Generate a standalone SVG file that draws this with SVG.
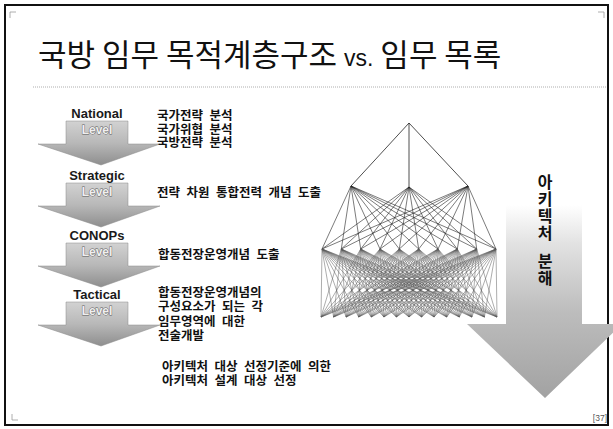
<svg xmlns="http://www.w3.org/2000/svg" width="613" height="429" viewBox="0 0 613 429">
<style>
.name{font-family:"Liberation Sans",Arial,sans-serif;font-weight:bold;font-size:13px;fill:#1a1a1a;text-anchor:middle}
.lvl{font-family:"Liberation Sans",Arial,sans-serif;font-weight:bold;font-size:12px;fill:#efefef;stroke:#5a5a5a;stroke-width:0.8;paint-order:stroke;text-anchor:middle}
.kr{font-family:"Liberation Sans","Noto Sans CJK KR",sans-serif;font-weight:bold;font-size:12.5px;fill:#111;word-spacing:3px}
.vt{font-family:"Noto Sans CJK KR","Noto Sans",sans-serif;font-weight:bold;font-size:16px;fill:#111;writing-mode:vertical-rl;letter-spacing:1px}
.e1{fill:none;stroke:#222;stroke-width:0.8}
.e2{fill:none;stroke:#222;stroke-width:0.6}
.e3{fill:none;stroke:#5a5a5a;stroke-width:0.5}
</style>
<defs>
<linearGradient id="lg" x1="0" y1="0" x2="0" y2="1">
<stop offset="0" stop-color="#d2d2d2"/>
<stop offset="0.5" stop-color="#b8b8b8"/>
<stop offset="1" stop-color="#8e8e8e"/>
</linearGradient>
<linearGradient id="rg" gradientUnits="userSpaceOnUse" x1="0" y1="205" x2="0" y2="398">
<stop offset="0" stop-color="#ffffff"/>
<stop offset="0.2" stop-color="#e2e2e2"/>
<stop offset="0.55" stop-color="#bdbdbd"/>
<stop offset="1" stop-color="#a2a2a2"/>
</linearGradient>
<path id="lvlArrow" d="M66 0H128V23H160L101 44L38 23H66Z" fill="url(#lg)" stroke="#8a8a8a" stroke-width="0.5"/>
</defs>
<rect width="613" height="429" fill="#fff"/>
<rect x="5" y="5" width="603" height="420" fill="none" stroke="#111" stroke-width="2"/>
<g fill="none" stroke="#999" stroke-width="0.8">
<polyline points="10,18 10,12 16,12"/>
<polyline points="598,12 604,12 604,18"/>
<polyline points="12,414 12,420 18,420"/>
</g>
<text x="607" y="421" font-family="Liberation Sans,Arial,sans-serif" font-size="8.5" fill="#555" text-anchor="end">[37]</text>

<g id="title">
<text x="38" y="66" font-family="Noto Sans CJK KR,Noto Sans,sans-serif" font-size="31" fill="#111">국방 임무 목적계층구조 <tspan font-family="Liberation Sans,Arial,sans-serif" font-size="23">vs.</tspan> 임무 목록</text>
<line x1="33" y1="87" x2="606" y2="87" stroke="#999" stroke-width="0.8" stroke-dasharray="1 1"/>
</g>

<g id="national">
<use href="#lvlArrow" transform="translate(0,121)"/>
<text class="name" x="97" y="118">National</text>
<text class="lvl" x="97" y="134">Level</text>
</g>
<g id="strategic">
<use href="#lvlArrow" transform="translate(0,183)"/>
<text class="name" x="97" y="180">Strategic</text>
<text class="lvl" x="97" y="196">Level</text>
</g>
<g id="conops">
<use href="#lvlArrow" transform="translate(0,243)"/>
<text class="name" x="97" y="240">CONOPs</text>
<text class="lvl" x="97" y="256">Level</text>
</g>
<g id="tactical">
<use href="#lvlArrow" transform="translate(0,302)"/>
<text class="name" x="97" y="299">Tactical</text>
<text class="lvl" x="97" y="315">Level</text>
</g>

<g id="desc-national">
<text class="kr" x="157" y="120"><tspan x="157" y="120">국가전략 분석</tspan><tspan x="157" y="133.5">국가위협 분석</tspan><tspan x="157" y="147">국방전략 분석</tspan></text>
</g>
<g id="desc-strategic">
<text class="kr" x="157" y="197">전략 차원 통합전력 개념 도출</text>
</g>
<g id="desc-conops">
<text class="kr" x="158" y="259">합동전장운영개념 도출</text>
</g>
<g id="desc-tactical">
<text class="kr" x="158" y="297"><tspan x="158" y="297">합동전장운영개념의</tspan><tspan x="158" y="311">구성요소가 되는 각</tspan><tspan x="158" y="325.5">임무영역에 대한</tspan><tspan x="158" y="340">전술개발</tspan></text>
</g>
<g id="desc-selection">
<text class="kr" x="162" y="371"><tspan x="162" y="371">아키텍처 대상 선정기준에 의한</tspan><tspan x="162" y="385">아키텍처 설계 대상 선정</tspan></text>
</g>

<g id="decomposition-arrow">
<path d="M506 150H582V324H622L545 398L467 324H506Z" fill="url(#rg)"/>
<text class="vt" x="545" y="174">아키텍처</text>
<text class="vt" x="545" y="253">분해</text>
</g>

<g id="connectors">
<path class="e1" d="M409 123L351 186M409 123L409 187M409 123L468 186"/>
<path class="e2" d="M351 186L322 249M351 186L341.3 249M351 186L360.7 249M351 186L380 249M351 186L399.3 249M351 186L418.7 249M351 186L438 249M351 186L457.3 249M351 186L476.7 249M351 186L496 249
M409 187L322 249M409 187L341.3 249M409 187L360.7 249M409 187L380 249M409 187L399.3 249M409 187L418.7 249M409 187L438 249M409 187L457.3 249M409 187L476.7 249M409 187L496 249
M468 186L322 249M468 186L341.3 249M468 186L360.7 249M468 186L380 249M468 186L399.3 249M468 186L418.7 249M468 186L438 249M468 186L457.3 249M468 186L476.7 249M468 186L496 249"/>
<path class="e3" d="M322 249L321 317M322 249L333.6 317M322 249L346.1 317M322 249L358.7 317M322 249L371.3 317M322 249L383.9 317M322 249L396.4 317M322 249L409 317M322 249L421.6 317M322 249L434.1 317M322 249L446.7 317M322 249L459.3 317M322 249L471.9 317M322 249L484.4 317M322 249L497 317
M341.3 249L321 317M341.3 249L333.6 317M341.3 249L346.1 317M341.3 249L358.7 317M341.3 249L371.3 317M341.3 249L383.9 317M341.3 249L396.4 317M341.3 249L409 317M341.3 249L421.6 317M341.3 249L434.1 317M341.3 249L446.7 317M341.3 249L459.3 317M341.3 249L471.9 317M341.3 249L484.4 317M341.3 249L497 317
M360.7 249L321 317M360.7 249L333.6 317M360.7 249L346.1 317M360.7 249L358.7 317M360.7 249L371.3 317M360.7 249L383.9 317M360.7 249L396.4 317M360.7 249L409 317M360.7 249L421.6 317M360.7 249L434.1 317M360.7 249L446.7 317M360.7 249L459.3 317M360.7 249L471.9 317M360.7 249L484.4 317M360.7 249L497 317
M380 249L321 317M380 249L333.6 317M380 249L346.1 317M380 249L358.7 317M380 249L371.3 317M380 249L383.9 317M380 249L396.4 317M380 249L409 317M380 249L421.6 317M380 249L434.1 317M380 249L446.7 317M380 249L459.3 317M380 249L471.9 317M380 249L484.4 317M380 249L497 317
M399.3 249L321 317M399.3 249L333.6 317M399.3 249L346.1 317M399.3 249L358.7 317M399.3 249L371.3 317M399.3 249L383.9 317M399.3 249L396.4 317M399.3 249L409 317M399.3 249L421.6 317M399.3 249L434.1 317M399.3 249L446.7 317M399.3 249L459.3 317M399.3 249L471.9 317M399.3 249L484.4 317M399.3 249L497 317
M418.7 249L321 317M418.7 249L333.6 317M418.7 249L346.1 317M418.7 249L358.7 317M418.7 249L371.3 317M418.7 249L383.9 317M418.7 249L396.4 317M418.7 249L409 317M418.7 249L421.6 317M418.7 249L434.1 317M418.7 249L446.7 317M418.7 249L459.3 317M418.7 249L471.9 317M418.7 249L484.4 317M418.7 249L497 317
M438 249L321 317M438 249L333.6 317M438 249L346.1 317M438 249L358.7 317M438 249L371.3 317M438 249L383.9 317M438 249L396.4 317M438 249L409 317M438 249L421.6 317M438 249L434.1 317M438 249L446.7 317M438 249L459.3 317M438 249L471.9 317M438 249L484.4 317M438 249L497 317
M457.3 249L321 317M457.3 249L333.6 317M457.3 249L346.1 317M457.3 249L358.7 317M457.3 249L371.3 317M457.3 249L383.9 317M457.3 249L396.4 317M457.3 249L409 317M457.3 249L421.6 317M457.3 249L434.1 317M457.3 249L446.7 317M457.3 249L459.3 317M457.3 249L471.9 317M457.3 249L484.4 317M457.3 249L497 317
M476.7 249L321 317M476.7 249L333.6 317M476.7 249L346.1 317M476.7 249L358.7 317M476.7 249L371.3 317M476.7 249L383.9 317M476.7 249L396.4 317M476.7 249L409 317M476.7 249L421.6 317M476.7 249L434.1 317M476.7 249L446.7 317M476.7 249L459.3 317M476.7 249L471.9 317M476.7 249L484.4 317M476.7 249L497 317
M496 249L321 317M496 249L333.6 317M496 249L346.1 317M496 249L358.7 317M496 249L371.3 317M496 249L383.9 317M496 249L396.4 317M496 249L409 317M496 249L421.6 317M496 249L434.1 317M496 249L446.7 317M496 249L459.3 317M496 249L471.9 317M496 249L484.4 317M496 249L497 317"/>
</g>
</svg>
